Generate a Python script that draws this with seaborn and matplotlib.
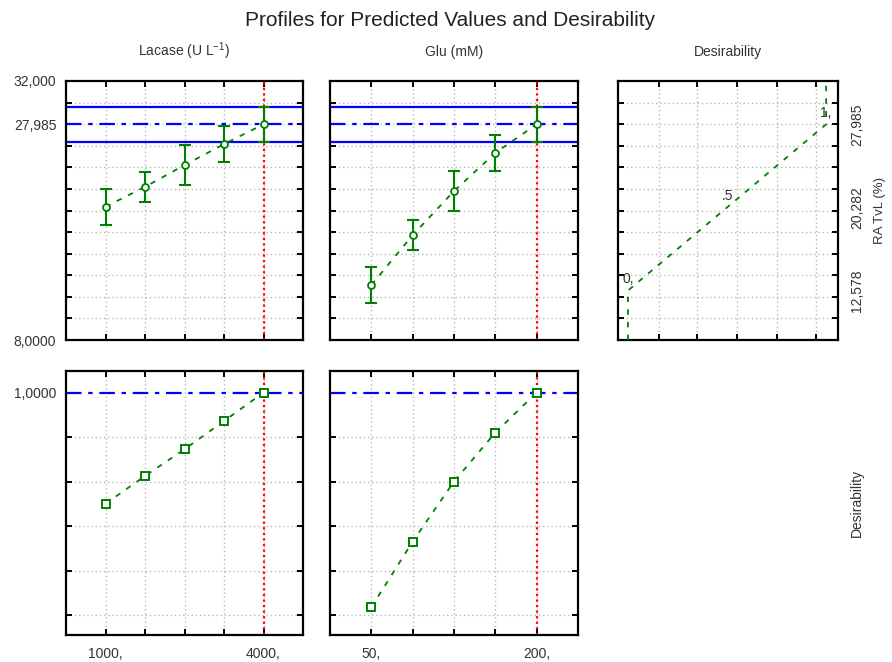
import matplotlib
matplotlib.use("Agg")
import matplotlib.pyplot as plt
import seaborn as sns
import numpy as np
import pandas as pd

# ---- data ----
lacase_levels = [1000, 1750, 2500, 3250, 4000]
glu_levels = [50, 87.5, 125, 162.5, 200]
lacase_pred = [20.34, 22.19, 24.20, 26.15, 27.985]
lacase_err = [1.65, 1.42, 1.85, 1.65, 1.65]
glu_pred = [13.09, 17.72, 21.80, 25.34, 27.985]
glu_err = [1.67, 1.39, 1.85, 1.68, 1.65]
lacase_desir = [0.50, 0.625, 0.745, 0.872, 1.0]
glu_desir = [0.035, 0.33, 0.60, 0.82, 1.0]
desir_fn_x = [0.0, 0.0, 1.0, 1.0]
desir_fn_y = [8.0, 12.578, 27.985, 32.0]
desir_marks = [0.0, 0.5, 1.0]
desir_mark_labels = ["0,", ".5", "1,"]
resp_low, resp_mid, resp_high = 12.578, 20.282, 27.985
ci_half = 1.65
resp_tick_labels = ["12,578", "20,282", "27,985"]
top_left_labels = ["8,0000", "27,985", "32,000"]
lacase_xlabels = ["1000,", "", "", "", "4000,"]
glu_xlabels = ["50,", "", "", "", "200,"]

sns.set_theme(style="white")
plt.rcParams["font.family"] = ["Liberation Sans", "DejaVu Sans"]
plt.rcParams["mathtext.fontset"] = "custom"
plt.rcParams["mathtext.rm"] = "Liberation Sans"

GREEN = "#008000"
BLUE = "#0000ff"
RED = "#ff0000"
GRID = "#b8b8b8"
TXT = "#333333"
FS = 10

fig = plt.figure(figsize=(8.92, 6.62), dpi=100)


def pos(x0, x1, y0, y1):
    return [x0 / 892, 1 - y1 / 662, (x1 - x0) / 892, (y1 - y0) / 662]


ax_tl = fig.add_axes(pos(66, 303, 81, 340))
ax_tm = fig.add_axes(pos(330, 578, 81, 340))
ax_tr = fig.add_axes(pos(618, 838, 81, 340))
ax_bl = fig.add_axes(pos(66, 303, 371, 635))
ax_bm = fig.add_axes(pos(330, 578, 371, 635))

top_grid = list(range(10, 31, 2))
bot_grid = [0.0, 0.2, 0.4, 0.6, 0.8, 1.0]
tr_grid = [0.155, 0.35, 0.55, 0.75, 0.95]


def style(ax):
    for s in ax.spines.values():
        s.set_visible(True)
        s.set_color("black")
        s.set_linewidth(1.6)
    ax.tick_params(which="both", direction="in", top=True, bottom=True,
                   left=True, right=True, color="black", width=1.4,
                   labelcolor=TXT, labelsize=FS)
    ax.tick_params(which="minor", length=4)
    ax.tick_params(which="major", length=4)
    ax.set_xlabel("")
    ax.set_ylabel("")


def dotted_grid(ax, xwhich, ywhich):
    ax.xaxis.grid(True, which=xwhich, color=GRID, linestyle=(0, (1, 2)), linewidth=1.0)
    ax.yaxis.grid(True, which=ywhich, color=GRID, linestyle=(0, (1, 2)), linewidth=1.0)
    ax.set_axisbelow(True)


# ---- top row: predicted values ----
for ax, lev, pred, err, xlim in [
    (ax_tl, lacase_levels, lacase_pred, lacase_err, (250, 4750)),
    (ax_tm, glu_levels, glu_pred, glu_err, (12.5, 237.5)),
]:
    style(ax)
    ax.set_xlim(*xlim)
    ax.set_ylim(8, 32)
    ax.set_xticks(lev)
    ax.set_xticklabels([])
    ax.set_yticks([8, resp_high, 32])
    ax.set_yticks(top_grid, minor=True)
    dotted_grid(ax, "major", "minor")
    ax.axhline(resp_high + ci_half, color=BLUE, lw=1.6, zorder=2)
    ax.axhline(resp_high - ci_half, color=BLUE, lw=1.6, zorder=2)
    ax.axhline(resp_high, color=BLUE, lw=1.6, linestyle=(0, (7, 3, 2, 3)), zorder=2)
    ax.axvline(lev[-1], color=RED, lw=1.6, linestyle=(0, (1, 1.5)), zorder=2)
    ax.errorbar(lev, pred, yerr=err, fmt="none", ecolor=GREEN, elinewidth=1.5,
                capsize=4.5, capthick=1.5, zorder=3)
    sns.lineplot(x=lev, y=pred, ax=ax, color=GREEN, lw=1.3, linestyle=(0, (3, 4)),
                 marker="o", markersize=5, markerfacecolor="white",
                 markeredgecolor=GREEN, markeredgewidth=1.3, zorder=4)
    style(ax)
    ax.tick_params(axis="y", which="major", length=0, pad=7)

ax_tl.set_yticklabels(top_left_labels)
ax_tm.set_yticklabels([])
ax_tl.set_title("Lacase (U L$^{-1}$)", fontsize=10, color=TXT, pad=18)
ax_tm.set_title("Glu (mM)", fontsize=10, color=TXT, pad=18)

# ---- top right: desirability function ----
style(ax_tr)
ax_tr.set_xlim(-0.05, 1.06)
ax_tr.set_ylim(8, 32)
ax_tr.set_xticks(tr_grid)
ax_tr.set_xticklabels([])
ax_tr.set_yticks([resp_low, resp_mid, resp_high])
ax_tr.set_yticklabels(resp_tick_labels, rotation=90, va="center")
ax_tr.set_yticks(top_grid, minor=True)
dotted_grid(ax_tr, "major", "minor")
sns.lineplot(x=desir_fn_x, y=desir_fn_y, ax=ax_tr, estimator=None, sort=False,
             color=GREEN, lw=1.3, linestyle=(0, (3, 4)), zorder=3)
for d, lab in zip(desir_marks, desir_mark_labels):
    yv = np.interp(d, [0.0, 1.0], [resp_low, resp_high])
    ax_tr.text(d, yv + 0.4, lab, ha="center", va="bottom", fontsize=FS, color=TXT)
style(ax_tr)
ax_tr.tick_params(axis="y", which="major", length=0, labelleft=False,
                  labelright=True, pad=9)
ax_tr.yaxis.set_label_position("right")
ax_tr.set_ylabel("RA TvL (%)", fontsize=9.5, color=TXT, labelpad=7)
ax_tr.set_title("Desirability", fontsize=10, color=TXT, pad=18)

# ---- bottom row: desirability ----
for ax, lev, des, xlim, xl in [
    (ax_bl, lacase_levels, lacase_desir, (250, 4750), lacase_xlabels),
    (ax_bm, glu_levels, glu_desir, (12.5, 237.5), glu_xlabels),
]:
    style(ax)
    ax.set_xlim(*xlim)
    ax.set_ylim(-0.09, 1.097)
    ax.set_xticks(lev)
    ax.set_xticklabels(xl)
    ax.set_yticks([1.0])
    ax.set_yticks(bot_grid, minor=True)
    dotted_grid(ax, "major", "minor")
    ax.axhline(1.0, color=BLUE, lw=1.6, linestyle=(0, (7, 3, 2, 3)), zorder=2)
    ax.axvline(lev[-1], color=RED, lw=1.6, linestyle=(0, (1, 1.5)), zorder=2)
    sns.lineplot(x=lev, y=des, ax=ax, color=GREEN, lw=1.3, linestyle=(0, (3, 4)),
                 marker="s", markersize=5.5, markerfacecolor="white",
                 markeredgecolor=GREEN, markeredgewidth=1.4, zorder=4)
    style(ax)
    ax.tick_params(axis="y", which="major", length=0, pad=7)
    ax.tick_params(axis="x", which="major", pad=9)

ax_bl.set_yticklabels(["1,0000"])
ax_bm.set_yticklabels([])

fig.text(857 / 892, 1 - 503 / 662, "Desirability", rotation=90, ha="center",
         va="center", fontsize=FS, color=TXT)
fig.suptitle("Profiles for Predicted Values and Desirability", x=450 / 892,
             y=1 - 20 / 662, va="center", fontsize=15, color="#222222")

fig.savefig("out.png", dpi=100)
